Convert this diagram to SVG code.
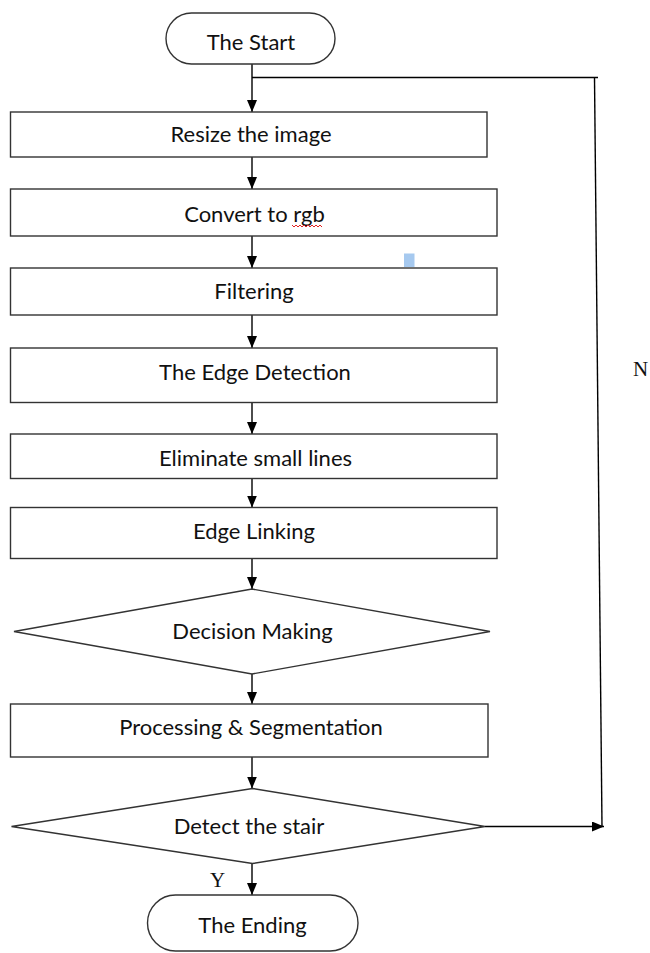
<svg xmlns="http://www.w3.org/2000/svg" width="650" height="953" viewBox="0 0 650 953">
  <defs>
    <marker id="arrow" markerUnits="userSpaceOnUse" markerWidth="12" markerHeight="10" refX="12" refY="5" orient="auto">
      <path d="M0,0 L12,5 L0,10 Z" fill="#000"/>
    </marker>
    <style>
      .shape { fill: #fff; stroke: #333; stroke-width: 1.4; }
      .lbl { font-family: Lato, "Liberation Sans", sans-serif; font-size: 22px; fill: #111; text-anchor: middle; }
      .yn { font-family: "Liberation Serif", serif; font-size: 21px; fill: #111; }
      .conn { fill: none; stroke: #000; stroke-width: 1.4; }
    </style>
  </defs>
  <rect width="650" height="953" fill="#fff"/>

  <g id="connectors">
    <line class="conn" x1="252" y1="64" x2="252" y2="112" marker-end="url(#arrow)"/>
    <line class="conn" x1="252" y1="157" x2="252" y2="189" marker-end="url(#arrow)"/>
    <line class="conn" x1="252" y1="236" x2="252" y2="268" marker-end="url(#arrow)"/>
    <line class="conn" x1="252" y1="315" x2="252" y2="348" marker-end="url(#arrow)"/>
    <line class="conn" x1="252" y1="402.5" x2="252" y2="434" marker-end="url(#arrow)"/>
    <line class="conn" x1="252" y1="478.5" x2="252" y2="507.5" marker-end="url(#arrow)"/>
    <line class="conn" x1="252" y1="558.5" x2="252" y2="589" marker-end="url(#arrow)"/>
    <line class="conn" x1="252" y1="674" x2="252" y2="704" marker-end="url(#arrow)"/>
    <line class="conn" x1="252" y1="757" x2="252" y2="788.5" marker-end="url(#arrow)"/>
    <line class="conn" x1="252" y1="863.5" x2="252" y2="895" marker-end="url(#arrow)"/>
    <!-- N loop -->
    <line class="conn" x1="485" y1="826.5" x2="604" y2="826.5" marker-end="url(#arrow)"/>
    <polyline class="conn" points="602,826.5 594.5,77.5"/>
    <polyline class="conn" points="598,77.5 252,77.5"/>
    <text class="yn" x="633" y="376">N</text>
    <text class="yn" x="210" y="887">Y</text>
  </g>

  <g id="start">
    <rect class="shape" x="166" y="13" width="169" height="51" rx="25.5" ry="25.5"/>
    <text class="lbl" x="251" y="50">The Start</text>
  </g>
  <g id="resize">
    <rect class="shape" x="10.5" y="112" width="476.5" height="45"/>
    <text class="lbl" x="251" y="141.5">Resize the image</text>
  </g>
  <g id="convert">
    <rect class="shape" x="10.5" y="189" width="486.5" height="47"/>
    <text class="lbl" x="254.5" y="221.5">Convert to rgb</text>
    <path d="M292,225 l2,2 l2,-2 l2,2 l2,-2 l2,2 l2,-2 l2,2 l2,-2 l2,2 l2,-2 l2,2 l2,-2 l2,2 l2,-2 l2,2" fill="none" stroke="#e02020" stroke-width="1"/>
  </g>
  <rect x="404" y="253.5" width="10.5" height="13.5" fill="#a6c9ef"/>
  <g id="filtering">
    <rect class="shape" x="10.5" y="268" width="486.5" height="47"/>
    <text class="lbl" x="254" y="299">Filtering</text>
  </g>
  <g id="edge-detection">
    <rect class="shape" x="10.5" y="348" width="486.5" height="54.5"/>
    <text class="lbl" x="255" y="379.5">The Edge Detection</text>
  </g>
  <g id="eliminate">
    <rect class="shape" x="10.5" y="434" width="486.5" height="44.5"/>
    <text class="lbl" x="255.5" y="465.5">Eliminate small lines</text>
  </g>
  <g id="edge-linking">
    <rect class="shape" x="10.5" y="507.5" width="486.5" height="51"/>
    <text class="lbl" x="254" y="538.5">Edge Linking</text>
  </g>
  <g id="decision">
    <polygon class="shape" points="14,631.5 252,589 490,631.5 252,674"/>
    <text class="lbl" x="252.5" y="638.5">Decision Making</text>
  </g>
  <g id="processing">
    <rect class="shape" x="10.5" y="704" width="477.5" height="53"/>
    <text class="lbl" x="251" y="734.5">Processing &amp; Segmentation</text>
  </g>
  <g id="detect">
    <polygon class="shape" points="11.5,826.5 252.5,788.5 485,826.5 252.5,863.5"/>
    <text class="lbl" x="249" y="834">Detect the stair</text>
  </g>
  <g id="ending">
    <rect class="shape" x="147.5" y="895" width="210.5" height="56" rx="28" ry="28"/>
    <text class="lbl" x="252.5" y="932.5">The Ending</text>
  </g>
</svg>
